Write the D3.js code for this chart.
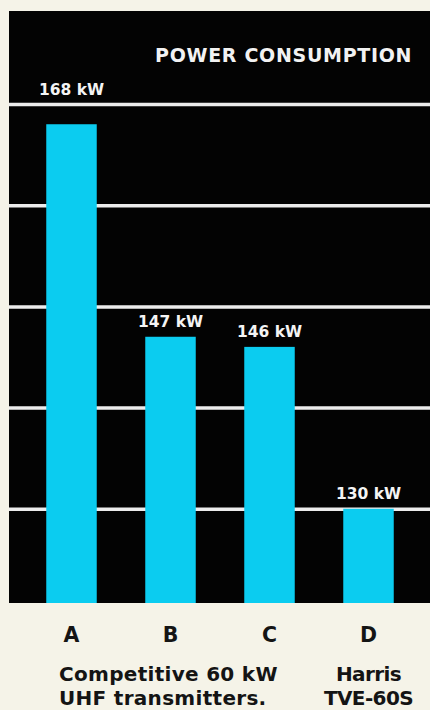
<!DOCTYPE html>
<html>
<head>
<meta charset="utf-8">
<script src="https://cdn.jsdelivr.net/npm/d3@7"></script>
<style>
  html, body { margin: 0; padding: 0; background: #f5f3e8; }
  svg { display: block; }
  text { font-family: "DejaVu Sans", "Liberation Sans", Arial, sans-serif;
         font-weight: bold; }
</style>
</head>
<body>
<script>
// chart data
var categories = ["A", "B", "C", "D"];
var values = [168, 147, 146, 130];
var valueLabels = ["168 kW", "147 kW", "146 kW", "130 kW"];
var gridValues = [130, 140, 150, 160, 170];
var title = "POWER CONSUMPTION";
var captionLeft = ["Competitive 60 kW", "UHF transmitters."];
var captionRight = ["Harris", "TVE-60S"];

var W = 430, H = 710;
var panel = {left: 9, top: 11, right: 430, bottom: 603};

var svg = d3.select("body")
    .append("svg")
    .attr("width", W)
    .attr("height", H);

var x = d3.scaleBand()
    .domain(categories)
    .range([22, 418])
    .paddingInner(0.49)
    .paddingOuter(0.245);

var y = d3.scaleLinear()
    .domain([120, 170])
    .range([610, 104]);

// black panel
svg.append("rect")
    .attr("x", panel.left)
    .attr("y", panel.top)
    .attr("width", panel.right - panel.left)
    .attr("height", panel.bottom - panel.top)
    .attr("fill", "#030303");

// white grid lines from the y axis ticks
var grid = svg.append("g")
    .attr("transform", "translate(" + panel.left + ",0)")
    .call(d3.axisRight(y)
        .tickValues(gridValues)
        .tickSize(panel.right - panel.left)
        .tickFormat(""));
grid.select(".domain").remove();
grid.selectAll(".tick line")
    .attr("stroke", "#ececec")
    .attr("stroke-width", 3.5);

// bars
svg.selectAll(".bar")
    .data(values)
    .enter()
    .append("rect")
    .attr("class", "bar")
    .attr("x", function(d, i) { return x(categories[i]); })
    .attr("y", function(d) { return y(d); })
    .attr("width", x.bandwidth())
    .attr("height", function(d) { return panel.bottom - y(d); })
    .attr("fill", "#0bccf0");

// value labels, moved above a grid line if they would sit on it
function labelY(d) {
    var base = y(d) - 10;
    gridValues.forEach(function(g) {
        var gy = y(g);
        if (gy > base - 16 && gy < y(d)) { base = gy - 9; }
    });
    return base;
}
svg.selectAll(".vlabel")
    .data(values)
    .enter()
    .append("text")
    .attr("class", "vlabel")
    .attr("x", function(d, i) { return x(categories[i]) + x.bandwidth() / 2; })
    .attr("y", labelY)
    .attr("text-anchor", "middle")
    .attr("font-size", 15.5)
    .attr("fill", "#f4f4f4")
    .text(function(d, i) { return valueLabels[i]; });

// title
svg.append("text")
    .attr("x", 155)
    .attr("y", 62)
    .attr("font-size", 19)
    .attr("letter-spacing", 0.7)
    .attr("fill", "#f2f2f2")
    .text(title);

// category letters
svg.selectAll(".cat")
    .data(categories)
    .enter()
    .append("text")
    .attr("class", "cat")
    .attr("x", function(d) { return x(d) + x.bandwidth() / 2; })
    .attr("y", 642)
    .attr("text-anchor", "middle")
    .attr("font-size", 20.5)
    .attr("fill", "#141414")
    .text(function(d) { return d; });

// captions, two lines each
var capL = svg.append("text")
    .attr("x", 59)
    .attr("y", 681)
    .attr("font-size", 20)
    .attr("letter-spacing", 0.3)
    .attr("fill", "#141414");
capL.selectAll("tspan")
    .data(captionLeft)
    .enter()
    .append("tspan")
    .attr("x", 59)
    .attr("dy", function(d, i) { return i === 0 ? 0 : 23.5; })
    .text(function(d) { return d; });

var capR = svg.append("text")
    .attr("x", x("D") + x.bandwidth() / 2)
    .attr("y", 681)
    .attr("text-anchor", "middle")
    .attr("font-size", 20)
    .attr("letter-spacing", -0.6)
    .attr("fill", "#141414");
capR.selectAll("tspan")
    .data(captionRight)
    .enter()
    .append("tspan")
    .attr("x", x("D") + x.bandwidth() / 2)
    .attr("dy", function(d, i) { return i === 0 ? 0 : 23.5; })
    .text(function(d) { return d; });
</script>
</body>
</html>
